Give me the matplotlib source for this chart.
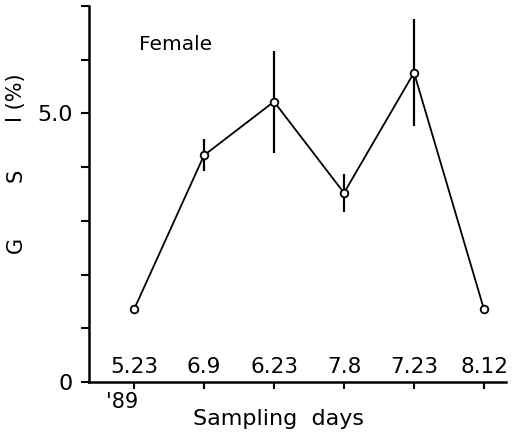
import matplotlib
matplotlib.use("Agg")
import matplotlib.pyplot as plt
import numpy as np

dates = ["5.23", "6.9", "6.23", "7.8", "7.23", "8.12"]
gsi = [1.35, 4.22, 5.22, 3.52, 5.76, 1.35]
gsi_err = [0.0, 0.30, 0.95, 0.35, 1.0, 0.0]
ytick_vals = [0, 1, 2, 3, 4, 5, 6, 7]
ytick_labels = ["0", "", "", "", "", "5.0", "", ""]

W, H = 512, 434
fig = plt.figure(figsize=(W / 100, H / 100), dpi=100)
ax = fig.add_axes([89 / W, (H - 382) / H, (506 - 89) / W, (382 - 6) / H])

x = np.arange(1, len(dates) + 1)
ax.plot(x, gsi, color="black", lw=1.3, zorder=2)
ax.errorbar(x, gsi, yerr=gsi_err, fmt="none", ecolor="black", elinewidth=1.6, capsize=0, zorder=1)
ax.plot(x, gsi, "o", mfc="white", mec="black", mew=1.3, ms=5.5, zorder=3)

ax.set_xlim(0.357, 6.314)
ax.set_ylim(0, 7)

for s in ["top", "right"]:
    ax.spines[s].set_visible(False)
for s in ["left", "bottom"]:
    ax.spines[s].set_linewidth(1.8)

ax.set_yticks(ytick_vals)
ax.set_yticklabels(ytick_labels, fontsize=16)
ax.tick_params(axis="y", direction="out", length=6, width=1.5, pad=6)
ax.set_xticks(x)
ax.set_xticklabels([])
ax.tick_params(axis="x", direction="out", length=5, width=1.5)

for xi, d in zip(x, dates):
    ax.text(xi, 0.09, d, ha="center", va="bottom", fontsize=15.5)

ax.text(x[0] - 0.17, -0.18, "'89", ha="center", va="top", fontsize=15, clip_on=False)
ax.text(0.455, -0.072, "Sampling  days",
        transform=ax.transAxes, ha="center", va="top", fontsize=16)
ax.text(1.6, 6.28, "Female", ha="center", va="center", fontsize=14.5)

fig.text(16 / W, 1 - 245 / H, "G", rotation=90, ha="center", va="center", fontsize=15)
fig.text(16 / W, 1 - 175 / H, "S", rotation=90, ha="center", va="center", fontsize=15)
fig.text(16 / W, 1 - 98 / H, "I (%)", rotation=90, ha="center", va="center", fontsize=15)

fig.savefig("out.png", dpi=100)
